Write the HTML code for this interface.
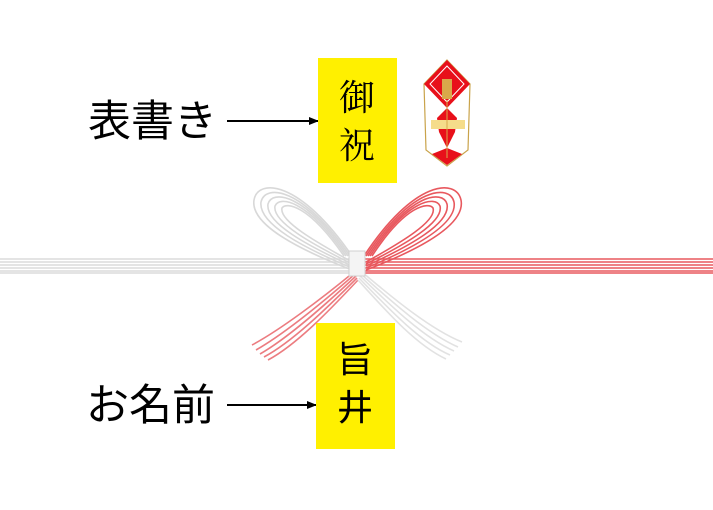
<!DOCTYPE html>
<html><head><meta charset="utf-8"><style>
html,body{margin:0;padding:0;background:#fff;width:713px;height:510px;overflow:hidden}
svg{display:block}
</style></head><body>
<svg width="713" height="510" viewBox="0 0 713 510" xmlns="http://www.w3.org/2000/svg">
<defs>
<marker id="ah" markerWidth="10" markerHeight="8" refX="9" refY="4" orient="auto" markerUnits="userSpaceOnUse">
<path d="M0,0 L10,4 L0,8 Z" fill="#000"/></marker>
</defs>
<text x="88" y="136" font-family="'Liberation Sans','Noto Sans CJK JP',sans-serif" font-size="43" fill="#000">表書き</text>
<text x="86" y="420" font-family="'Liberation Sans','Noto Sans CJK JP',sans-serif" font-size="43" fill="#000">お名前</text>
<line x1="227" y1="121" x2="318" y2="121" stroke="#000" stroke-width="2" marker-end="url(#ah)"/>
<line x1="227" y1="405" x2="316" y2="405" stroke="#000" stroke-width="2" marker-end="url(#ah)"/>
<rect x="318" y="58" width="79" height="125" fill="#fff000"/>
<rect x="316" y="323" width="79" height="126" fill="#fff000"/>
<text x="357" y="110" text-anchor="middle" font-family="'Noto Serif CJK SC',serif" font-size="36" fill="#000">御</text>
<text x="357" y="158" text-anchor="middle" font-family="'Noto Serif CJK SC',serif" font-size="36" fill="#000">祝</text>
<text x="355" y="372" text-anchor="middle" font-family="'Noto Sans CJK JP',sans-serif" font-size="36" fill="#000">旨</text>
<text x="355" y="420" text-anchor="middle" font-family="'Noto Sans CJK JP',sans-serif" font-size="36" fill="#000">井</text>
<g stroke-width="1.6" fill="none">
<g stroke="#dcdcdc">
<line x1="0" y1="259" x2="360" y2="259"/><line x1="0" y1="262" x2="360" y2="262"/><line x1="0" y1="265" x2="360" y2="265"/><line x1="0" y1="268" x2="360" y2="268"/><line x1="0" y1="271" x2="360" y2="271"/><line x1="0" y1="273" x2="360" y2="273"/>
</g>
<g stroke="#e8585e">
<line x1="360" y1="259" x2="713" y2="259"/><line x1="360" y1="262" x2="713" y2="262"/><line x1="360" y1="265" x2="713" y2="265"/><line x1="360" y1="268" x2="713" y2="268"/><line x1="360" y1="271" x2="713" y2="271"/><line x1="360" y1="273" x2="713" y2="273"/>
</g>
<g stroke="#d8d8d8">
<path d="M352,270 C300,250 250,225 254,200 C258,178 300,180 352,256"/>
<path d="M352,268 C304,248 258,224 261,202 C265,184 302,186 350,256"/>
<path d="M352,266 C308,246 265,223 268,204 C272,190 304,192 348,256"/>
<path d="M352,264 C312,244 272,222 275,206 C279,196 306,198 346,256"/>
<path d="M352,262 C316,242 279,221 282,208 C286,202 308,204 344,256"/>
</g>
<g stroke="#e8585e">
<path d="M366,270 C418,250 466,225 461,200 C456,178 414,180 364,256"/>
<path d="M366,268 C414,248 458,224 454,202 C450,184 412,186 366,256"/>
<path d="M366,266 C410,246 451,223 447,204 C443,190 410,192 368,256"/>
<path d="M366,264 C406,244 444,222 440,206 C436,196 408,198 370,256"/>
<path d="M366,262 C402,242 437,221 433,208 C429,202 406,204 372,256"/>
</g>
<g stroke="#ec7c80">
<path d="M354,272 C320,300 280,330 252,345"/>
<path d="M355,274 C322,303 284,334 256,350"/>
<path d="M356,276 C324,306 288,338 260,354"/>
<path d="M357,278 C326,309 292,342 264,357"/>
<path d="M358,280 C328,312 296,345 268,360"/>
</g>
<g stroke="#e2e2e2">
<path d="M362,272 C395,300 432,330 462,342"/>
<path d="M361,274 C393,303 428,334 458,347"/>
<path d="M360,276 C391,306 424,338 454,351"/>
<path d="M359,278 C389,309 420,342 450,355"/>
<path d="M358,280 C387,312 416,345 446,359"/>
</g>
</g>
<rect x="349" y="251" width="16" height="25" fill="#f4f4f4" stroke="#d0d0d0" stroke-width="1"/>
<g>
<path d="M447,60 L470,84 L468,150 L447,166 L426,150 L424,84 Z" fill="#fff" stroke="#c9a34a" stroke-width="1.2"/>
<path d="M447,60 L470,84 L447,108 L424,84 Z" fill="#e8101a"/>
<path d="M447,66 L464,84 L447,102 L430,84 Z" fill="none" stroke="#fff" stroke-width="1"/>
<rect x="442" y="79" width="10" height="20" fill="#d9a84a"/>
<path d="M447,108 L457,118 L455,132 L447,148 L439,132 L437,118 Z" fill="#e8101a"/>
<rect x="431" y="120" width="34" height="9" fill="#f5dc8a"/>
<path d="M447,148 L462,154 L447,165 L432,154 Z" fill="#e8101a"/>
<line x1="447" y1="100" x2="447" y2="158" stroke="#d9a84a" stroke-width="1"/>
</g>
</svg>
</body></html>
